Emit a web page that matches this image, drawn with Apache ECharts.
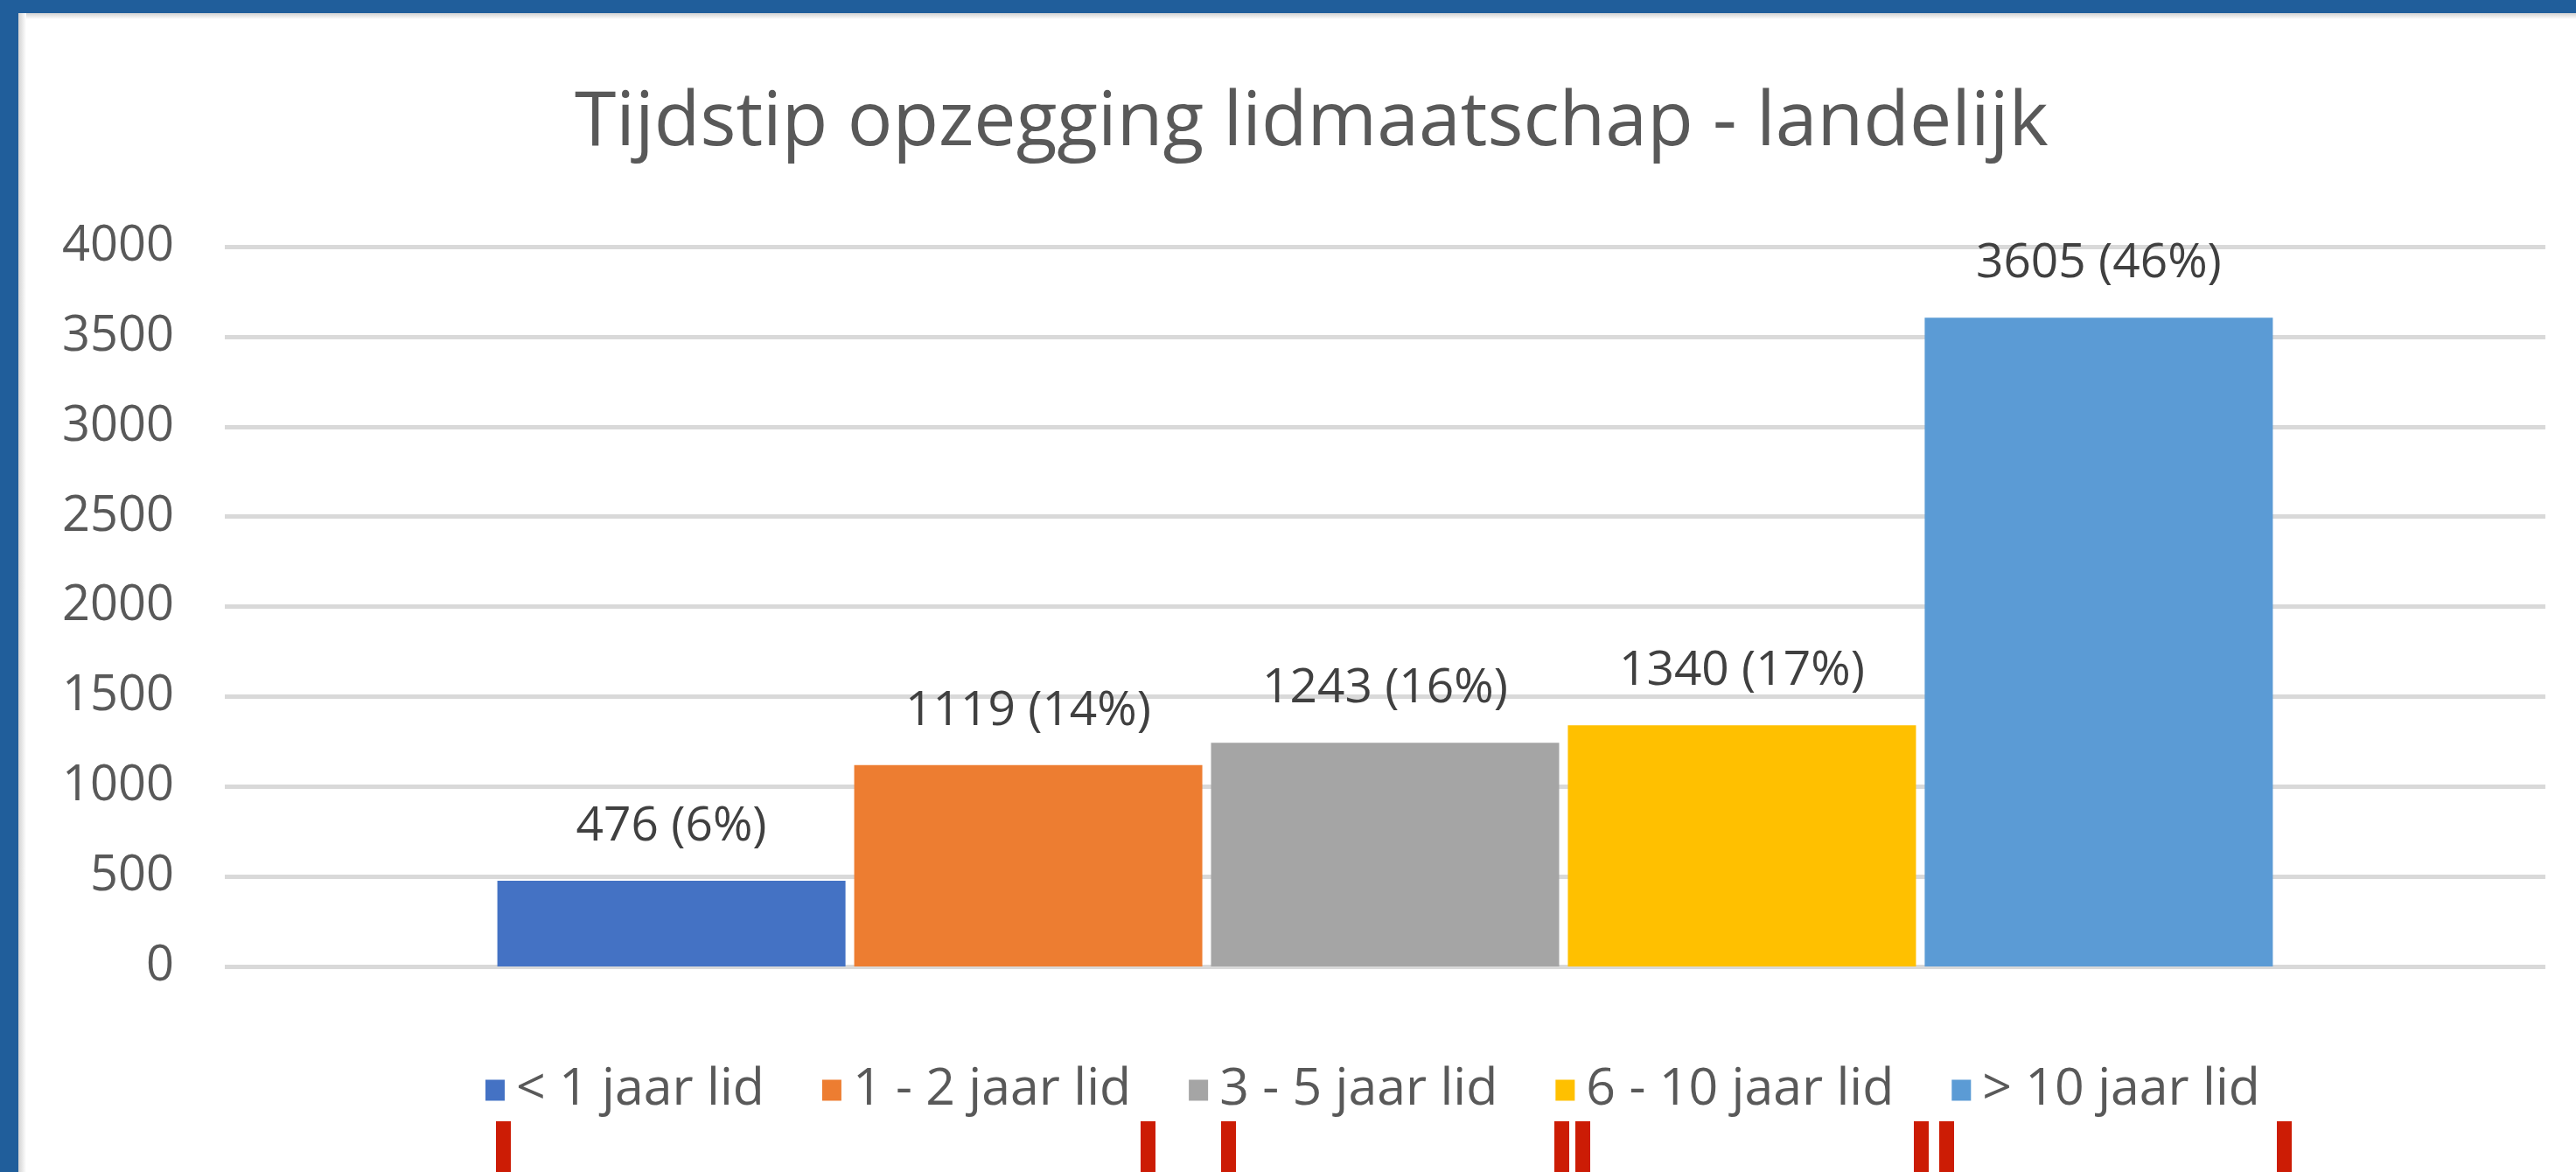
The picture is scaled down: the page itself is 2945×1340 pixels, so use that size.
<!DOCTYPE html>
<html>
<head>
<meta charset="utf-8">
<title>Tijdstip opzegging lidmaatschap - landelijk</title>
<script src="https://cdn.jsdelivr.net/npm/echarts@6/dist/echarts.min.js"></script>
<style>
  html, body { margin: 0; padding: 0; background: #ffffff; }
  #chart { width: 2945px; height: 1340px; }
</style>
</head>
<body>
<div id="chart"></div>
<script>
// data
const categories = ["landelijk"];
const seriesNames = ["< 1 jaar lid", "1 - 2 jaar lid", "3 - 5 jaar lid", "6 - 10 jaar lid", "> 10 jaar lid"];
const counts = [476, 1119, 1243, 1340, 3605];
const percentages = [6, 14, 16, 17, 46];
const yMin = 0;
const yMax = 4000;
const yStep = 500;

const colors = ["#4472C4", "#ED7D31", "#A5A5A5", "#FFC000", "#5B9BD5"];
const font = "'Open Sans', 'Liberation Sans', sans-serif";

const chart = echarts.init(document.getElementById("chart"));

const series = seriesNames.map((name, i) => ({
  name: name,
  type: "bar",
  data: [counts[i]],
  barWidth: 398,
  barGap: "2.5%",
  itemStyle: { color: colors[i] },
  label: {
    show: true,
    position: "top",
    distance: 34,
    formatter: () => counts[i] + " (" + percentages[i] + "%)",
    color: "#404040",
    fontSize: 55,
    fontFamily: font,
  },
}));

// frame of the screenshot: blue edge top/left with a soft grey shadow inside
const frame = [
  { type: "rect", shape: { x: 0, y: 0, width: 2945, height: 15 }, style: { fill: "#205E9B" }, z: 100 },
  { type: "rect", shape: { x: 0, y: 0, width: 21, height: 1340 }, style: { fill: "#205E9B" }, z: 100 },
  {
    type: "rect", shape: { x: 21, y: 15, width: 2924, height: 7 }, z: 99,
    style: { fill: new echarts.graphic.LinearGradient(0, 0, 0, 1, [{ offset: 0, color: "#d2d2d2" }, { offset: 1, color: "#ffffff" }]) },
  },
  {
    type: "rect", shape: { x: 21, y: 15, width: 9, height: 1325 }, z: 99,
    style: { fill: new echarts.graphic.LinearGradient(0, 0, 1, 0, [{ offset: 0, color: "#d2d2d2" }, { offset: 1, color: "#ffffff" }]) },
  },
];

// red marker strokes drawn over the bottom edge
const redStrokes = [575, 1312, 1404, 1785, 1809, 2196, 2225, 2611].map((x) => ({
  type: "rect",
  shape: { x: x - 8, y: 1282, width: 17, height: 60 },
  style: { fill: "#CC1C05" },
  z: 100,
}));

const option = {
  backgroundColor: "#ffffff",
  animation: false,
  color: colors,
  title: {
    text: "Tijdstip opzegging lidmaatschap - landelijk",
    left: 657,
    top: 98,
    padding: 0,
    textStyle: {
      color: "#595959",
      fontSize: 86,
      fontWeight: 400,
      fontFamily: font,
    },
  },
  legend: {
    data: seriesNames,
    left: 555,
    top: 1217,
    padding: 0,
    itemWidth: 22,
    itemHeight: 24,
    itemGap: 66,
    icon: "rect",
    textStyle: {
      color: "#595959",
      fontSize: 59,
      fontFamily: font,
      padding: [0, 0, 0, 8],
    },
  },
  grid: {
    left: 257,
    right: 35,
    top: 282,
    bottom: 1340 - 1105,
    containLabel: false,
  },
  xAxis: {
    type: "category",
    data: categories,
    axisLine: { show: false },
    axisTick: { show: false },
    axisLabel: { show: false },
  },
  yAxis: {
    type: "value",
    min: yMin,
    max: yMax,
    interval: yStep,
    axisLine: { show: false },
    axisTick: { show: false },
    axisLabel: {
      color: "#595959",
      fontSize: 56,
      fontFamily: font,
      margin: 58,
      formatter: (v) => String(v),
    },
    splitLine: {
      lineStyle: { color: "#D9D9D9", width: 5 },
    },
  },
  series: series,
  graphic: frame.concat(redStrokes),
};

chart.setOption(option);
</script>
</body>
</html>
